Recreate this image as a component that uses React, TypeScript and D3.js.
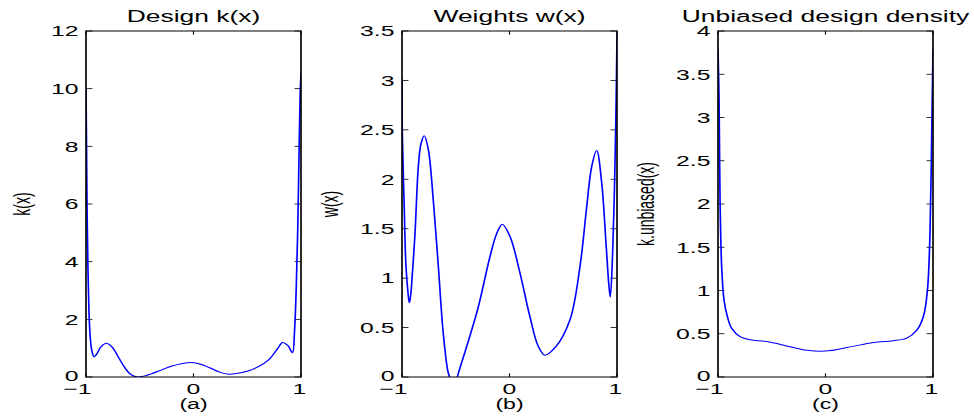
import React from "react";
import * as d3 from "d3";

// ---- data ----
const kX = [-1, -0.995, -0.99, -0.982, -0.972, -0.96, -0.945, -0.925, -0.9, -0.86, -0.81, -0.76, -0.7, -0.64, -0.58, -0.52, -0.46, -0.4, -0.3, -0.2, -0.1, -0.03, 0.05, 0.15, 0.25, 0.32, 0.4, 0.5, 0.6, 0.7, 0.78, 0.83, 0.88, 0.905, 0.922, 0.94, 0.955, 0.97, 0.982, 0.992, 1];
const kY = [10.05, 8.0, 5.8, 3.8, 2.2, 1.35, 0.9, 0.7, 0.8, 1.05, 1.17, 1.05, 0.7, 0.33, 0.08, 0.0, 0.03, 0.1, 0.24, 0.38, 0.47, 0.5, 0.46, 0.32, 0.16, 0.1, 0.12, 0.2, 0.35, 0.6, 0.97, 1.2, 1.08, 0.92, 0.84, 1.6, 3.0, 5.2, 7.8, 9.8, 10.55];

const wX = [-1, -0.997, -0.981, -0.963, -0.944, -0.932, -0.92, -0.9, -0.879, -0.848, -0.823, -0.793, -0.755, -0.709, -0.662, -0.616, -0.569, -0.545, -0.52, -0.495, -0.47, -0.398, -0.29, -0.181, -0.119, -0.067, 0.005, 0.098, 0.19, 0.268, 0.33, 0.434, 0.563, 0.656, 0.718, 0.765, 0.811, 0.858, 0.898, 0.926, 0.938, 0.96, 0.981, 0.992, 1];
const wY = [3.02, 2.46, 1.79, 1.12, 0.85, 0.75, 0.82, 1.1, 1.45, 2.13, 2.36, 2.44, 2.3, 1.79, 1.12, 0.44, 0.04, -0.02, -0.04, -0.02, 0.06, 0.31, 0.71, 1.22, 1.45, 1.545, 1.42, 1.05, 0.61, 0.31, 0.22, 0.31, 0.58, 1.12, 1.72, 2.13, 2.29, 1.96, 1.35, 0.91, 0.81, 1.28, 2.13, 2.8, 3.46];

const uX = [-1, -0.99, -0.981, -0.966, -0.944, -0.913, -0.873, -0.795, -0.702, -0.547, -0.33, -0.175, 0, 0.2, 0.445, 0.631, 0.756, 0.849, 0.911, 0.948, 0.972, 0.988, 1];
const uY = [3.79, 3.2, 2.05, 1.275, 0.89, 0.7, 0.563, 0.466, 0.43, 0.41, 0.35, 0.31, 0.3, 0.34, 0.4, 0.42, 0.45, 0.54, 0.7, 1.0, 1.66, 2.82, 3.79];

const xTicks = [-1, 0, 1];
const kTicks = [0, 2, 4, 6, 8, 10, 12];
const wTicks = [0, 0.5, 1, 1.5, 2, 2.5, 3, 3.5];
const uTicks = [0, 0.5, 1, 1.5, 2, 2.5, 3, 3.5, 4];

const titles = ["Design k(x)", "Weights w(x)", "Unbiased design density"];
const yLabels = ["k(x)", "w(x)", "k.unbiased(x)"];
const xLabels = ["(a)", "(b)", "(c)"];

// ---- layout ----
const W = 974;
const H = 417;
const S = 1.65; // horizontal stretch of the original figure
const TOP = 31;
const BOTTOM = 377;
const FONT = "'Liberation Sans', Arial, Helvetica, sans-serif";

type PanelProps = {
  id: string;
  left: number;
  right: number;
  yMax: number;
  yTicks: number[];
  xs: number[];
  ys: number[];
  title: string;
  ylabel: string;
  ylabelX: number;
  xlabel: string;
};

function fmt(v: number) {
  const s = String(v);
  return v < 0 ? "\u2212" + s.slice(1) : s;
}

function Panel(p: PanelProps) {
  const x = d3.scaleLinear().domain([-1, 1]).range([p.left / S, p.right / S]);
  const y = d3.scaleLinear().domain([0, p.yMax]).range([BOTTOM, TOP]);
  const pts = p.xs.map((v, i) => [v, p.ys[i]] as [number, number]);
  const line = d3
    .line<[number, number]>()
    .x((d) => x(d[0]))
    .y((d) => y(d[1]))
    .curve(d3.curveCatmullRom.alpha(0.5));
  const x0 = x(-1);
  const x1 = x(1);
  const hTick = 3.9; // unscaled (displays ~6.4px)
  const vTick = 3.5;
  const cx = ((x0 + x1) / 2) * S;
  return (
    <g>
      <defs>
        <clipPath id={p.id}>
          <rect x={x0} y={TOP} width={x1 - x0} height={BOTTOM - TOP} />
        </clipPath>
      </defs>
      <g transform={`scale(${S},1)`}>
        {p.yTicks.map((t) => (
          <g key={"yt" + t} stroke="#000" strokeWidth={0.8}>
            <line x1={x0} x2={x0 + hTick} y1={y(t)} y2={y(t)} />
            <line x1={x1} x2={x1 - hTick} y1={y(t)} y2={y(t)} />
          </g>
        ))}
        {xTicks.map((t) => (
          <g key={"xt" + t} stroke="#000" strokeWidth={0.7}>
            <line x1={x(t)} x2={x(t)} y1={BOTTOM} y2={BOTTOM - vTick} />
            <line x1={x(t)} x2={x(t)} y1={TOP} y2={TOP + vTick} />
          </g>
        ))}
        <path
          d={line(pts) || ""}
          fill="none"
          stroke="#0000ff"
          strokeWidth={1}
          clipPath={`url(#${p.id})`}
        />
        <rect
          x={x0}
          y={TOP}
          width={x1 - x0}
          height={BOTTOM - TOP}
          fill="none"
          stroke="#000"
          strokeWidth={1}
        />
      </g>
      {/* title */}
      <text
        transform={`translate(${cx},22) scale(${S},1)`}
        textAnchor="middle"
        fontSize={16}
        fontFamily={FONT}
        fill="#000"
      >
        {p.title}
      </text>
      {/* y tick labels */}
      {p.yTicks.map((t) => (
        <text
          key={"yl" + t}
          transform={`translate(${p.left - 7.5},${y(t) + 5.3 - (t === 0 ? 1 : 0)}) scale(${S},1)`}
          textAnchor="end"
          fontSize={15}
          fontFamily={FONT}
          fill="#000"
        >
          {fmt(t)}
        </text>
      ))}
      {/* x tick labels */}
      {xTicks.map((t) => (
        <text
          key={"xl" + t}
          transform={`translate(${x(t) * S - (t !== 0 ? 1.5 : 0)},393.5) scale(${S},1)`}
          textAnchor={t < 0 ? "end" : "middle"}
          x={t < 0 ? 4.2 : 0}
          fontSize={15}
          fontFamily={FONT}
          fill="#000"
        >
          {fmt(t)}
        </text>
      ))}
      {/* x label */}
      <text
        transform={`translate(${cx},408.5) scale(${S},1)`}
        textAnchor="middle"
        fontSize={14}
        fontFamily={FONT}
        fill="#000"
      >
        {p.xlabel}
      </text>
      {/* y label */}
      <text
        transform={`translate(${p.ylabelX},${(TOP + BOTTOM) / 2}) scale(${S},1) rotate(-90)`}
        textAnchor="middle"
        fontSize={14}
        fontFamily={FONT}
        fill="#000"
      >
        {p.ylabel}
      </text>
    </g>
  );
}

export default function App() {
  return (
    <svg
      width={W}
      height={H}
      viewBox={`0 0 ${W} ${H}`}
      style={{ position: "absolute", left: 0, top: 0, background: "#fff" }}
    >
      <rect x={0} y={0} width={W} height={H} fill="#fff" />
      <Panel id="clipA" left={86} right={301} yMax={12} yTicks={kTicks} xs={kX} ys={kY}
        title={titles[0]} ylabel={yLabels[0]} ylabelX={30} xlabel={xLabels[0]} />
      <Panel id="clipB" left={402} right={617} yMax={3.5} yTicks={wTicks} xs={wX} ys={wY}
        title={titles[1]} ylabel={yLabels[1]} ylabelX={338} xlabel={xLabels[1]} />
      <Panel id="clipC" left={718} right={933} yMax={4} yTicks={uTicks} xs={uX} ys={uY}
        title={titles[2]} ylabel={yLabels[2]} ylabelX={653.5} xlabel={xLabels[2]} />
    </svg>
  );
}
